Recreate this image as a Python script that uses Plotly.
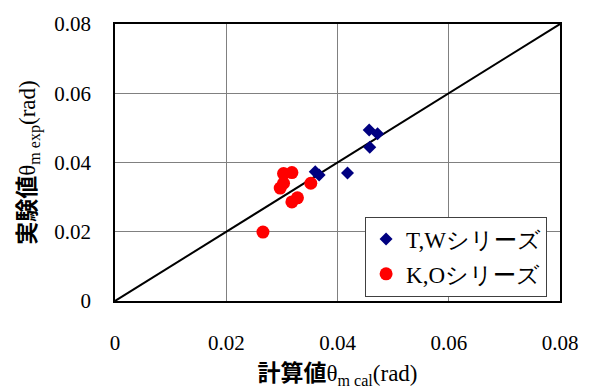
import plotly.graph_objects as go

# T,W series (computed vs. measured rotation, rad)
tw_cal = [0.0457, 0.0472, 0.0458, 0.0360, 0.0367, 0.0418]
tw_exp = [0.0494, 0.0483, 0.0444, 0.0373, 0.0364, 0.0370]

# K,O series
ko_cal = [0.0303, 0.0318, 0.0303, 0.0297, 0.0352, 0.0328, 0.0318, 0.0266]
ko_exp = [0.0368, 0.0371, 0.0340, 0.0326, 0.0340, 0.0298, 0.0286, 0.0199]

# 1:1 reference line
ref_line = [0.0, 0.08]

tick_vals = [0, 0.02, 0.04, 0.06, 0.08]
tick_text = ["0", "0.02", "0.04", "0.06", "0.08"]

serif = "Liberation Serif"
jp = "Noto Sans CJK JP"

fig = go.Figure()
fig.add_trace(go.Scatter(
    x=ref_line, y=ref_line, mode="lines",
    line=dict(color="black", width=2), showlegend=False, hoverinfo="skip"))
fig.add_trace(go.Scatter(
    x=tw_cal, y=tw_exp, mode="markers", name="T,Wシリーズ", legendgroup="tw",
    marker=dict(symbol="diamond", size=10, color="#000080")))
fig.add_trace(go.Scatter(
    x=ko_cal, y=ko_exp, mode="markers", name="K,Oシリーズ", legendgroup="ko",
    marker=dict(symbol="circle", size=13, color="#FF0000")))

axis_common = dict(
    range=[0, 0.08], tickvals=tick_vals, ticktext=tick_text,
    showgrid=True, gridcolor="#808080", gridwidth=1,
    showline=True, linecolor="black", linewidth=1.5, mirror=True,
    zeroline=False, ticks="", tickfont=dict(family=serif, size=21, color="black"),
)

fig.update_xaxes(
    **axis_common, ticklabelstandoff=22,
    title=dict(
        text=f'<span style="font-family:{jp}"><b>計算値</b></span>θ<sub>m cal</sub>(rad)',
        font=dict(family=serif, size=23, color="black"), standoff=6))
fig.update_yaxes(
    **axis_common, ticklabelstandoff=18,
    title=dict(
        text=f'<span style="font-family:{jp}"><b>実験値</b></span>θ<sub>m exp</sub>(rad)',
        font=dict(family=serif, size=23, color="black"), standoff=12))

fig.update_layout(
    width=593, height=389,
    font=dict(family=serif, color="black"),
    margin=dict(l=115, r=33, t=16, b=88),
    plot_bgcolor="white", paper_bgcolor="white",
    legend=dict(
        x=0.562, y=0.305, xanchor="left", yanchor="top",
        bgcolor="white", bordercolor="#404040", borderwidth=1,
        font=dict(family=serif, size=23, color="black"),
        traceorder="grouped", tracegroupgap=2, itemwidth=30),
)

fig.write_html("out.html")
